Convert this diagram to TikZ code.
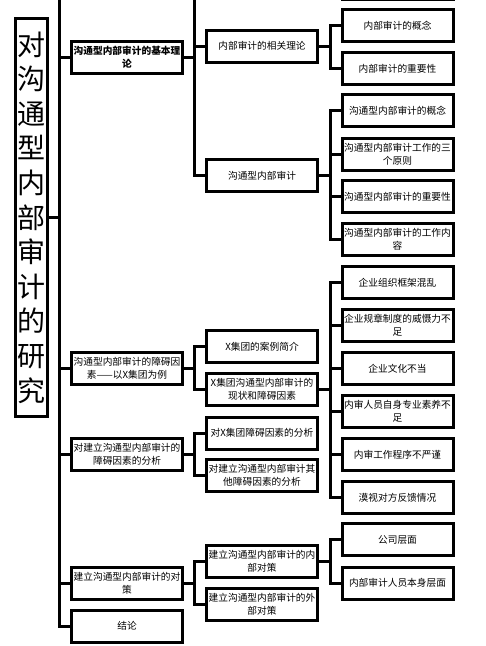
\documentclass[tikz,border=0pt]{standalone}
\usepackage{fontspec}
\setmainfont{Noto Sans CJK SC}
\usetikzlibrary{positioning}
\begin{document}
\begin{tikzpicture}[x=1pt, y=-1pt,
    box/.style={draw, line width=3pt, minimum width=111pt, minimum height=32pt,
      inner sep=0pt, align=center, font=\fontsize{9.7}{12.7}\selectfont},
    rootbox/.style={draw, line width=3pt, minimum width=32pt, minimum height=398pt,
      inner sep=0pt, align=center, font=\fontsize{28}{34.6}\selectfont},
    link/.style={line width=3pt}]
  \useasboundingbox (0,0) rectangle (486,646);
  \clip (0,0) rectangle (486,646);

  % fork columns
  \coordinate (f0) at (59,0);
  \coordinate (f1) at (194.5,0);
  \coordinate (f2) at (330,0);

  % root
  \node[rootbox] (root) at (31.5,217.5)
    {对\\沟\\通\\型\\内\\部\\审\\计\\的\\研\\究};

  % level 1
  \node[box, font=\fontsize{9.7}{12.7}\selectfont\bfseries] (b1) at (127,57)
    {沟通型内部审计的基本理\\论};
  \node[box] (b2) at (127,368.5) {沟通型内部审计的障碍因\\素——以X集团为例};
  \node[box] (b3) at (127,454) {对建立沟通型内部审计的\\障碍因素的分析};
  \node[box] (b4) at (127,583) {建立沟通型内部审计的对\\策};
  \node[box] (b5) at (127,626) {结论};

  % level 2
  \node[box] (c1) at (262,46) {内部审计的相关理论};
  \node[box] (c2) at (262,175.5) {沟通型内部审计};
  \node[box] (c3) at (262,346.5) {X集团的案例简介};
  \node[box] (c4) at (262,389.5) {X集团沟通型内部审计的\\现状和障碍因素};
  \node[box] (c5) at (262,433) {对X集团障碍因素的分析};
  \node[box] (c6) at (262,475.5) {对建立沟通型内部审计其\\他障碍因素的分析};
  \node[box] (c7) at (262,561) {建立沟通型内部审计的内\\部对策};
  \node[box] (c8) at (262,604.5) {建立沟通型内部审计的外\\部对策};

  % level 3
  \node[box] (d0) at (397.5,-17) {};
  \node[box] (d1) at (397.5,25.5) {内部审计的概念};
  \node[box] (d2) at (397.5,68.5) {内部审计的重要性};
  \node[box] (d3) at (397.5,110.5) {沟通型内部审计的概念};
  \node[box] (d4) at (397.5,154) {沟通型内部审计工作的三\\个原则};
  \node[box] (d5) at (397.5,196.5) {沟通型内部审计的重要性};
  \node[box] (d6) at (397.5,239.5) {沟通型内部审计的工作内\\容};
  \node[box] (e1) at (397.5,282.5) {企业组织框架混乱};
  \node[box] (e2) at (397.5,325.5) {企业规章制度的威慑力不\\足};
  \node[box] (e3) at (397.5,368.5) {企业文化不当};
  \node[box] (e4) at (397.5,411.5) {内审人员自身专业素养不\\足};
  \node[box] (e5) at (397.5,454.5) {内审工作程序不严谨};
  \node[box] (e6) at (397.5,497.5) {漠视对方反馈情况};
  \node[box] (g1) at (397.5,539.5) {公司层面};
  \node[box] (g2) at (397.5,583) {内部审计人员本身层面};

  % root -> level 1 (trunk runs on above the top)
  \draw[link] (root.east) -- (root.east -| f0);
  \draw[link] (f0 |- 0,-10) |- (b5.west);
  \foreach \n in {b1,b2,b3,b4}
    \draw[link] (f0 |- \n.west) -- (\n.west);

  % level 1 -> level 2
  \draw[link] (b1.east) -- (b1.east -| f1);
  \draw[link] (f1 |- 0,-10) |- (c2.west);
  \draw[link] (f1 |- c1.west) -- (c1.west);
  \draw[link] (b2.east) -- (b2.east -| f1);
  \draw[link] (c3.west) -| (f1 |- c4.west) -- (c4.west);
  \draw[link] (b3.east) -- (b3.east -| f1);
  \draw[link] (c5.west) -| (f1 |- c6.west) -- (c6.west);
  \draw[link] (b4.east) -- (b4.east -| f1);
  \draw[link] (c7.west) -| (f1 |- c8.west) -- (c8.west);

  % level 2 -> level 3
  \draw[link] (c1.east) -- (c1.east -| f2);
  \draw[link] (d1.west) -| (f2 |- d2.west) -- (d2.west);
  \draw[link] (c2.east) -- (c2.east -| f2);
  \draw[link] (d3.west) -| (f2 |- d6.west) -- (d6.west);
  \foreach \n in {d4,d5}
    \draw[link] (f2 |- \n.west) -- (\n.west);
  \draw[link] (c4.east) -- (c4.east -| f2);
  \draw[link] (e1.west) -| (f2 |- e6.west) -- (e6.west);
  \foreach \n in {e2,e3,e4,e5}
    \draw[link] (f2 |- \n.west) -- (\n.west);
  \draw[link] (c7.east) -- (c7.east -| f2);
  \draw[link] (g1.west) -| (f2 |- g2.west) -- (g2.west);
\end{tikzpicture}
\end{document}
